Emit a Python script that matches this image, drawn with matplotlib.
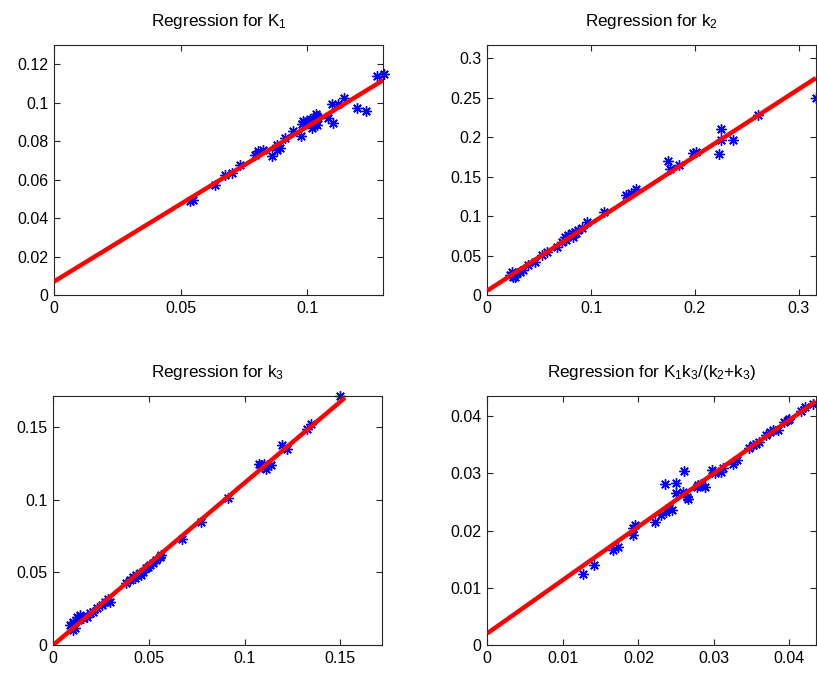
import matplotlib
matplotlib.use("Agg")
import matplotlib.pyplot as plt
import numpy as np

plt.rcParams['font.family'] = ['Liberation Sans', 'DejaVu Sans']
plt.rcParams['mathtext.fontset'] = 'custom'
plt.rcParams['mathtext.rm'] = 'Liberation Sans'
plt.rcParams['mathtext.it'] = 'Liberation Sans:italic'
plt.rcParams['mathtext.default'] = 'regular'

# ---------------- data ----------------
titles = [r'Regression for K$_1$', r'Regression for k$_2$',
          r'Regression for k$_3$', r'Regression for K$_1$k$_3$/(k$_2$+k$_3$)']

k1_x = [0.0538, 0.0550, 0.0636, 0.0676, 0.0702, 0.0735, 0.0794, 0.0808, 0.0825, 0.0860,
        0.0880, 0.0893, 0.0883, 0.0913, 0.0946, 0.0975, 0.0979, 0.0992, 0.0985, 0.1005,
        0.1010, 0.1019, 0.1032, 0.1025, 0.1038, 0.1036, 0.1045, 0.1040, 0.1084, 0.1104,
        0.1098, 0.1124, 0.1146, 0.1196, 0.1233, 0.1275, 0.1302]
k1_y = [0.0487, 0.0495, 0.0574, 0.0626, 0.0635, 0.0678, 0.0730, 0.0748, 0.0756, 0.0722,
        0.0782, 0.0765, 0.0756, 0.0817, 0.0852, 0.0826, 0.0887, 0.0896, 0.0904, 0.0905,
        0.0915, 0.0870, 0.0887, 0.0913, 0.0930, 0.0939, 0.0920, 0.0885, 0.0922, 0.0892,
        0.0991, 0.0991, 0.1026, 0.0974, 0.0956, 0.1139, 0.1148]

k2_x = [0.0218, 0.0252, 0.0284, 0.0315, 0.0347, 0.0234, 0.0266, 0.0395, 0.0459, 0.0523,
        0.0571, 0.0667, 0.0715, 0.0747, 0.0779, 0.0812, 0.0843, 0.0875, 0.0908, 0.0763,
        0.0827, 0.0859, 0.0960, 0.1125, 0.1340, 0.1388, 0.1436, 0.1740, 0.1757, 0.1846,
        0.1981, 0.2007, 0.2231, 0.2254, 0.2247, 0.2365, 0.2606, 0.3167]
k2_y = [0.0253, 0.0232, 0.0275, 0.0295, 0.0317, 0.0295, 0.0232, 0.0380, 0.0422, 0.0507,
        0.0549, 0.0612, 0.0676, 0.0739, 0.0760, 0.0782, 0.0802, 0.0824, 0.0845, 0.0697,
        0.0739, 0.0782, 0.0925, 0.1056, 0.1267, 0.1289, 0.1340, 0.1698, 0.1593, 0.1648,
        0.1804, 0.1816, 0.1787, 0.2100, 0.1964, 0.1964, 0.2281, 0.2500]

k3_x = [0.0087, 0.0104, 0.0122, 0.0139, 0.0113, 0.0130, 0.0156, 0.0174, 0.0191, 0.0208,
        0.0226, 0.0252, 0.0269, 0.0286, 0.0295, 0.0104, 0.0382, 0.0399, 0.0416, 0.0434,
        0.0451, 0.0468, 0.0486, 0.0503, 0.0520, 0.0538, 0.0555, 0.0564, 0.0425, 0.0460,
        0.0494, 0.0673, 0.0772, 0.0911, 0.1075, 0.1093, 0.1110, 0.1136, 0.1084, 0.1101,
        0.1197, 0.1223, 0.1327, 0.1344, 0.1497]
k3_y = [0.0138, 0.0160, 0.0195, 0.0206, 0.0115, 0.0172, 0.0184, 0.0195, 0.0218, 0.0229,
        0.0253, 0.0275, 0.0298, 0.0315, 0.0298, 0.0103, 0.0425, 0.0447, 0.0470, 0.0482,
        0.0493, 0.0504, 0.0528, 0.0551, 0.0562, 0.0585, 0.0608, 0.0619, 0.0459, 0.0482,
        0.0539, 0.0730, 0.0849, 0.1010, 0.1250, 0.1227, 0.1216, 0.1239, 0.1239, 0.1250,
        0.1376, 0.1354, 0.1491, 0.1526, 0.1715]

k4_x = [0.0127, 0.0141, 0.0167, 0.0173, 0.0193, 0.0195, 0.0193, 0.0222, 0.0230, 0.0237,
        0.0241, 0.0244, 0.0235, 0.0250, 0.0261, 0.0250, 0.0259, 0.0264, 0.0266, 0.0279,
        0.0277, 0.0283, 0.0288, 0.0297, 0.0301, 0.0310, 0.0312, 0.0325, 0.0330, 0.0347,
        0.0352, 0.0356, 0.0360, 0.0369, 0.0374, 0.0378, 0.0385, 0.0393, 0.0398, 0.0400,
        0.0415, 0.0420, 0.0431]
k4_y = [0.0125, 0.0140, 0.0166, 0.0172, 0.0192, 0.0210, 0.0204, 0.0215, 0.0227, 0.0233,
        0.0239, 0.0236, 0.0281, 0.0284, 0.0304, 0.0265, 0.0268, 0.0259, 0.0256, 0.0279,
        0.0277, 0.0282, 0.0277, 0.0306, 0.0300, 0.0303, 0.0309, 0.0317, 0.0323, 0.0344,
        0.0349, 0.0352, 0.0355, 0.0367, 0.0373, 0.0376, 0.0376, 0.0390, 0.0393, 0.0396,
        0.0410, 0.0416, 0.0422]

xs = [k1_x, k2_x, k3_x, k4_x]
ys = [k1_y, k2_y, k3_y, k4_y]

# regression line (intercept, slope)
intercepts = [0.0070, 0.0055, 0.0000, 0.00204]
slopes = [0.805, 0.8516, 1.118, 0.933]
line_end = [0.1302, 0.3167, 0.1524, 0.0435]

limits = [0.130, 0.317, 0.1716, 0.04355]
xticks = [[0, 0.05, 0.1], [0, 0.1, 0.2, 0.3], [0, 0.05, 0.1, 0.15], [0, 0.01, 0.02, 0.03, 0.04]]
yticks = [[0, 0.02, 0.04, 0.06, 0.08, 0.1, 0.12], [0, 0.05, 0.1, 0.15, 0.2, 0.25, 0.3],
          [0, 0.05, 0.1, 0.15], [0, 0.01, 0.02, 0.03, 0.04]]

# ---------------- figure ----------------
fig = plt.figure(figsize=(8.17, 6.75), dpi=100)
W, H = 817.0, 675.0
boxes = [(54, 45, 329, 250), (487.3, 45, 329, 250),
         (53.3, 396, 328.4, 249), (487.3, 396, 329, 249)]

for i in range(4):
    l, t, w, h = boxes[i]
    ax = fig.add_axes([l / W, (H - t - h) / H, w / W, h / H])
    ax.plot(xs[i], ys[i], linestyle='none', marker=(8, 2, 0), color='#0000ff',
            markersize=7.5, markeredgewidth=1.0, clip_on=False, zorder=2)
    lx = np.array([0.0, line_end[i]])
    ax.plot(lx, intercepts[i] + slopes[i] * lx, color='#ff0000', linewidth=3.2,
            solid_capstyle='butt', zorder=3)
    ax.set_xlim(0, limits[i])
    ax.set_ylim(0, limits[i])
    ax.set_xticks(xticks[i])
    ax.set_yticks(yticks[i])
    ax.set_xticklabels(['%g' % v for v in xticks[i]])
    ax.set_yticklabels(['%g' % v for v in yticks[i]])
    ax.tick_params(direction='in', top=True, right=True, length=4, width=0.8,
                   labelsize=11.5, color='#262626', pad=4)
    for s in ax.spines.values():
        s.set_color('#262626')
        s.set_linewidth(0.8)
    ax.set_title(titles[i], fontsize=12.3, pad=14)

fig.savefig('out.png', dpi=100)
